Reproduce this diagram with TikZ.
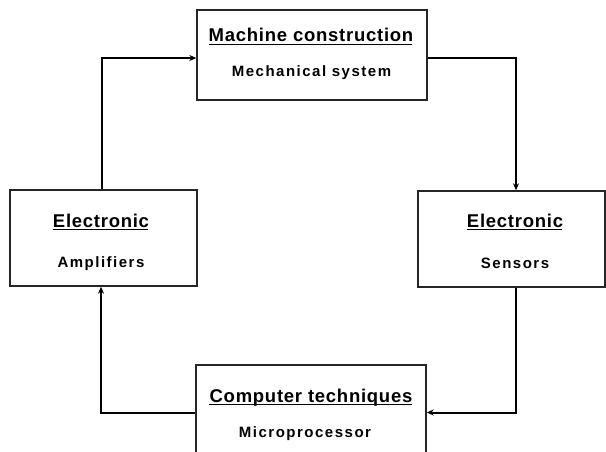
\documentclass[tikz,border=0pt]{standalone}
\usepackage{fontspec}
\setmainfont{Liberation Sans}
\usetikzlibrary{arrows.meta,calc}
\newfontfamily\ttlfont[LetterSpace=4]{Liberation Sans Bold}
\newfontfamily\subfont[LetterSpace=10]{Liberation Sans Bold}
\tikzset{
  box/.style={draw=black!85, line width=1.4pt, fill=white, inner sep=0pt},
  ttl/.style={anchor=base, inner sep=0pt, font=\ttlfont\fontsize{18.5}{21}\selectfont},
  sub/.style={anchor=base, inner sep=0pt, font=\subfont\fontsize{15}{17}\selectfont},
  conn/.style={line width=2pt, -{Stealth[length=7pt,width=6pt]}},
  uline/.style={line width=1.4pt}
}
\begin{document}
\begin{tikzpicture}[x=1pt,y=-1pt]
\useasboundingbox (0,0) rectangle (606,452);
\fill[white] (0,0) rectangle (606,452);
\begin{scope}
\clip (0,0) rectangle (606,452);
\node[box, minimum width=230pt, minimum height=90pt] (mc) at (312,55) {};
\node[box, minimum width=187pt, minimum height=96pt] (le) at (103.5,238) {};
\node[box, minimum width=187pt, minimum height=96pt] (re) at (511.5,239) {};
\node[box, minimum width=230pt, minimum height=95pt] (ct) at (311,412.5) {};

\node[ttl] (t1) at (311,42) {Machine construction};
\node[sub] (s1) at (311.5,76.5) {Mechanical system};
\node[ttl] (t2) at (101,227) {Electronic};
\node[sub] (s2) at (101,267.5) {Amplifiers};
\node[ttl] (t3) at (515,227) {Electronic};
\node[sub] (s3) at (515,268) {Sensors};
\node[ttl] (t4) at (311,402) {Computer techniques};
\node[sub] (s4) at (305,437.5) {Microprocessor};

\foreach \n in {t1,t2,t3,t4}
  \draw[uline] ([yshift=-2.5pt]\n.base west) -- ([yshift=-2.5pt,xshift=-1pt]\n.base east);

\draw[conn] ([xshift=-1.5pt]le.north) |- ([yshift=-3pt]mc.west);
\draw[conn] ([yshift=-3pt]mc.east) -| ([xshift=4.5pt]re.north);
\draw[conn] ([xshift=4.5pt]re.south) |- (ct.east);
\draw[conn] (ct.west) -| ([xshift=-2.5pt]le.south);
\end{scope}
\end{tikzpicture}
\end{document}
